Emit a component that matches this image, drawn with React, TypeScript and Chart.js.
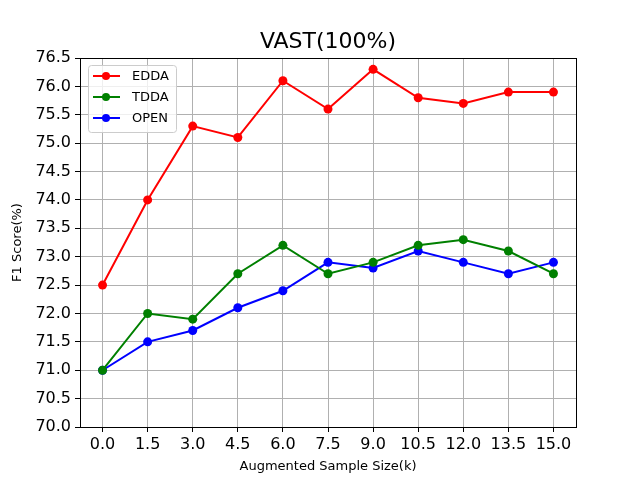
import Chart from 'chart.js/auto';
import React, { useEffect, useRef } from 'react';

const xValues = [0, 1.5, 3, 4.5, 6, 7.5, 9, 10.5, 12, 13.5, 15];
const eddaScores = [72.5, 74.0, 75.3, 75.1, 76.1, 75.6, 76.3, 75.8, 75.7, 75.9, 75.9];
const tddaScores = [71.0, 72.0, 71.9, 72.7, 73.2, 72.7, 72.9, 73.2, 73.3, 73.1, 72.7];
const openScores = [71.0, 71.5, 71.7, 72.1, 72.4, 72.9, 72.8, 73.1, 72.9, 72.7, 72.9];
const seriesNames = ['EDDA', 'TDDA', 'OPEN'];
const seriesColors = ['#ff0000', '#008000', '#0000ff'];
const chartTitle = 'VAST(100%)';

const FONT = "'DejaVu Sans', sans-serif";

const toPoints = (ys: number[]) => ys.map((y, i) => ({ x: xValues[i], y }));

// 제목, 축 테두리, 범례를 직접 그림 (matplotlib 스타일)
const framePlugin = {
  id: 'frame',
  afterDraw(chart: any) {
    const { ctx, chartArea } = chart;
    ctx.save();
    ctx.strokeStyle = '#000';
    ctx.lineWidth = 1;
    ctx.strokeRect(chartArea.left + 0.5, chartArea.top + 0.5, chartArea.right - chartArea.left, chartArea.bottom - chartArea.top);

    // 제목 (플롯 영역 중앙)
    ctx.fillStyle = '#000';
    ctx.font = `22px ${FONT}`;
    ctx.textAlign = 'center';
    ctx.textBaseline = 'middle';
    ctx.fillText(chartTitle, (chartArea.left + chartArea.right) / 2, chartArea.top - 16);

    // 범례 박스
    const bx = chartArea.left + 8;
    const by = chartArea.top + 7;
    const bw = 88;
    const bh = 67;
    ctx.fillStyle = 'rgba(255,255,255,0.8)';
    ctx.strokeStyle = '#cccccc';
    ctx.beginPath();
    ctx.roundRect(bx + 0.5, by + 0.5, bw, bh, 3);
    ctx.fill();
    ctx.stroke();
    ctx.font = `13px ${FONT}`;
    ctx.textAlign = 'left';
    seriesNames.forEach((name, i) => {
      const y = by + 11 + i * 21;
      ctx.strokeStyle = seriesColors[i];
      ctx.lineWidth = 2;
      ctx.beginPath();
      ctx.moveTo(bx + 5, y);
      ctx.lineTo(bx + 32, y);
      ctx.stroke();
      ctx.fillStyle = seriesColors[i];
      ctx.beginPath();
      ctx.arc(bx + 18, y, 4, 0, Math.PI * 2);
      ctx.fill();
      ctx.fillStyle = '#000';
      ctx.fillText(name, bx + 44, y + 1);
    });
    ctx.restore();
  },
};

const App: React.FC = () => {
  const chartRef = useRef<HTMLCanvasElement>(null);
  const chartInstanceRef = useRef<Chart | null>(null);

  useEffect(() => {
    document.body.style.margin = '0';
    if (!chartRef.current) return;
    const ctx = chartRef.current.getContext('2d');
    if (!ctx) return;

    if (chartInstanceRef.current) chartInstanceRef.current.destroy();

    const allScores = [eddaScores, tddaScores, openScores];

    chartInstanceRef.current = new Chart(ctx, {
      type: 'line',
      data: {
        datasets: allScores.map((ys, i) => ({
          label: seriesNames[i],
          data: toPoints(ys),
          borderColor: seriesColors[i],
          backgroundColor: seriesColors[i],
          borderWidth: 2,
          pointRadius: 4.5,
          pointHoverRadius: 4.5,
          pointBorderWidth: 0,
          tension: 0,
        })),
      },
      options: {
        responsive: false,
        animation: false,
        layout: { padding: { left: 0, right: 64, top: 58, bottom: 0 } },
        plugins: {
          legend: { display: false },
          tooltip: { enabled: false },
          title: { display: false },
        },
        scales: {
          x: {
            type: 'linear',
            min: -0.75,
            max: 15.75,
            afterBuildTicks: (scale: any) => {
              scale.ticks = xValues.map((v) => ({ value: v }));
            },
            afterFit: (scale: any) => {
              scale.height = 53;
            },
            grid: { color: '#b0b0b0', lineWidth: 1, tickColor: '#000', tickLength: 5 },
            border: { color: '#000' },
            ticks: {
              color: '#000',
              padding: 3,
              maxRotation: 0,
              font: { family: FONT, size: 16 },
              callback: (v: any) => Number(v).toFixed(1),
            },
            title: {
              display: true,
              text: 'Augmented Sample Size(k)',
              color: '#000',
              font: { family: FONT, size: 13 },
              padding: { top: 2, bottom: 6 },
            },
          },
          y: {
            min: 70,
            max: 76.5,
            afterFit: (scale: any) => {
              scale.width = 80;
            },
            grid: { color: '#b0b0b0', lineWidth: 1, tickColor: '#000', tickLength: 5 },
            border: { color: '#000' },
            ticks: {
              stepSize: 0.5,
              color: '#000',
              padding: 4,
              font: { family: FONT, size: 16 },
              callback: (v: any) => Number(v).toFixed(1),
            },
            title: {
              display: true,
              text: 'F1 Score(%)',
              color: '#000',
              font: { family: FONT, size: 13 },
              padding: { top: 10, bottom: 4 },
            },
          },
        },
      },
      plugins: [framePlugin],
    } as any);

    return () => {
      if (chartInstanceRef.current) {
        chartInstanceRef.current.destroy();
        chartInstanceRef.current = null;
      }
    };
  }, []);

  return (
    <div style={{ width: 640, height: 480, background: '#fff' }}>
      <canvas ref={chartRef} width={640} height={480}></canvas>
    </div>
  );
};

export default App;
